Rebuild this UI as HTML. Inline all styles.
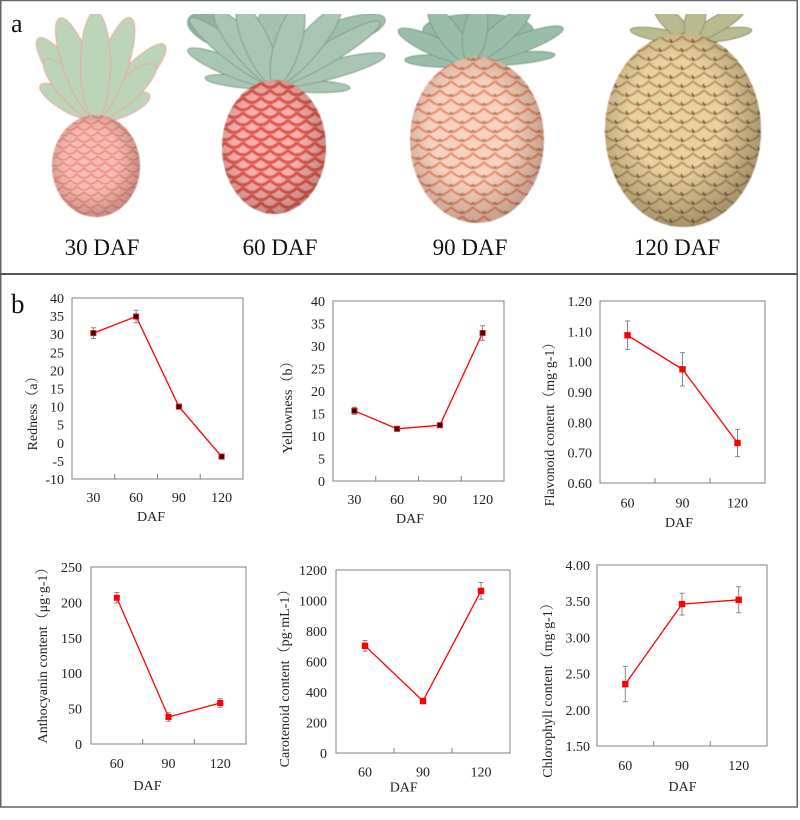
<!DOCTYPE html>
<html><head><meta charset="utf-8"><style>
html,body{margin:0;padding:0;background:#fff;}
svg{display:block;}
</style></head><body>
<svg width="800" height="820" viewBox="0 0 800 820" xmlns="http://www.w3.org/2000/svg" font-family="'Liberation Serif','Noto Serif CJK SC',serif">
<defs>
 <pattern id="pt1" width="14" height="12" patternUnits="userSpaceOnUse">
  <rect width="14" height="12" fill="#f7bcb4"/>
  <path d="M0,0 Q7,8 14,0 M-7,6 Q0,14 7,6 M7,6 Q14,14 21,6 M0,12 Q7,20 14,12" fill="none" stroke="#ea867d" stroke-width="1.6"/>
 </pattern>
 <pattern id="pt2" width="18" height="15" patternUnits="userSpaceOnUse">
  <rect width="18" height="15" fill="#f4b2ae"/>
  <path d="M0,0 Q9,10 18,0 M-9,7.5 Q0,17.5 9,7.5 M9,7.5 Q18,17.5 27,7.5 M0,15 Q9,25 18,15" fill="none" stroke="#e4544c" stroke-width="3.2"/>
  <path d="M9,3 l0,3 M0,10.5 l0,3 M18,10.5 l0,3" stroke="#a07070" stroke-width="1"/>
 </pattern>
 <pattern id="pt3" width="22" height="18" patternUnits="userSpaceOnUse">
  <rect width="22" height="18" fill="#f5d3c0"/>
  <path d="M0,0 Q11,12 22,0 M-11,9 Q0,21 11,9 M11,9 Q22,21 33,9 M0,18 Q11,30 22,18" fill="none" stroke="#ee8a6a" stroke-width="2.2"/>
  <path d="M11,4 l-2,3 m2,-3 l2,3 M0,13 l-2,3 m2,-3 l2,3 M22,13 l-2,3 m2,-3 l2,3" stroke="#8e8a72" stroke-width="1.2"/>
 </pattern>
 <pattern id="pt4" width="22" height="18" patternUnits="userSpaceOnUse">
  <rect width="22" height="18" fill="#e8d29e"/>
  <path d="M0,0 Q11,12 22,0 M-11,9 Q0,21 11,9 M11,9 Q22,21 33,9 M0,18 Q11,30 22,18" fill="none" stroke="#bb9462" stroke-width="2"/>
  <path d="M10,3 l2,4 M-1,12 l2,4 M21,12 l2,4" stroke="#5a4a38" stroke-width="1.5"/>
 </pattern>
 <radialGradient id="shade" cx="0.45" cy="0.45" r="0.55">
  <stop offset="0.55" stop-color="#5a2a18" stop-opacity="0"/>
  <stop offset="1" stop-color="#5a2a18" stop-opacity="0.3"/>
 </radialGradient>
 <radialGradient id="shade4" cx="0.45" cy="0.42" r="0.58">
  <stop offset="0.5" stop-color="#3a2a18" stop-opacity="0"/>
  <stop offset="1" stop-color="#3a2a18" stop-opacity="0.38"/>
 </radialGradient>
 <clipPath id="photo"><rect x="0" y="14" width="797" height="230"/></clipPath>
 <filter id="soft" x="-5%" y="-5%" width="110%" height="110%"><feGaussianBlur stdDeviation="0.6"/></filter>
</defs>

<rect x="0" y="0" width="800" height="820" fill="#fff"/>

<!-- Panel a photos -->
<g clip-path="url(#photo)">
<g filter="url(#soft)">
 <!-- P1 crown -->
 <g fill="#bcd5b8" stroke="#e9a3a0" stroke-width="1">
  <ellipse cx="68" cy="101.5" rx="32" ry="10" transform="rotate(30 68 101.5)"/>
  <ellipse cx="123" cy="106.5" rx="29" ry="10" transform="rotate(-23 123 106.5)"/>
  <ellipse cx="67" cy="78" rx="49" ry="13" transform="rotate(54 67 78)"/>
  <ellipse cx="130.5" cy="81.5" rx="50" ry="13" transform="rotate(-47 130.5 81.5)"/>
  <ellipse cx="70.5" cy="89" rx="39" ry="12" transform="rotate(49 70.5 89)"/>
  <ellipse cx="125.5" cy="91.5" rx="40" ry="12" transform="rotate(-42 125.5 91.5)"/>
  <ellipse cx="78" cy="68" rx="53" ry="14" transform="rotate(70 78 68)"/>
  <ellipse cx="113" cy="68" rx="53" ry="14" transform="rotate(-71 113 68)"/>
  <ellipse cx="95.5" cy="65" rx="53" ry="15" transform="rotate(90 95.5 65)"/>
 </g>
 <ellipse cx="96" cy="166" rx="44" ry="51" fill="url(#pt1)"/>
 <ellipse cx="96" cy="166" rx="44" ry="51" fill="url(#shade)"/>

 <!-- P2 crown -->
 <g fill="#a9c5b3" stroke="#809c8e" stroke-width="1">
  <ellipse cx="222" cy="32" rx="36" ry="16" transform="rotate(20 222 32)" fill="#93b3a0"/>
  <ellipse cx="345" cy="32" rx="42" ry="13" transform="rotate(-18 345 32)" fill="#9fbfac"/>
  <ellipse cx="275" cy="42" rx="42" ry="20" transform="rotate(90 275 42)" fill="#a4c2ae"/>
  <ellipse cx="240" cy="81.5" rx="35" ry="6" transform="rotate(6 240 81.5)"/>
  <ellipse cx="312.5" cy="86.5" rx="37.5" ry="6" transform="rotate(2 312.5 86.5)"/>
  <ellipse cx="231.5" cy="67.5" rx="47" ry="9" transform="rotate(22 231.5 67.5)"/>
  <ellipse cx="330" cy="70" rx="57" ry="9" transform="rotate(-15 330 70)"/>
  <ellipse cx="232.5" cy="51.5" rx="54" ry="10" transform="rotate(38 232.5 51.5)"/>
  <ellipse cx="327.5" cy="53.5" rx="61" ry="10" transform="rotate(-31 327.5 53.5)"/>
  <ellipse cx="245" cy="47.5" rx="48" ry="12" transform="rotate(51 245 47.5)"/>
  <ellipse cx="307.5" cy="46.5" rx="50" ry="12" transform="rotate(-50 307.5 46.5)"/>
  <ellipse cx="257.5" cy="45" rx="44" ry="13" transform="rotate(66 257.5 45)"/>
  <ellipse cx="287.5" cy="45" rx="42" ry="13" transform="rotate(-73 287.5 45)"/>
 </g>
 <ellipse cx="274" cy="147" rx="52" ry="67" fill="url(#pt2)"/>
 <ellipse cx="274" cy="147" rx="52" ry="67" fill="url(#shade)"/>

 <!-- P3 crown -->
 <g fill="#9abda9" stroke="#7a9a88" stroke-width="1">
  <ellipse cx="478" cy="30" rx="55" ry="16" fill="#94b8a3"/>
  <ellipse cx="437.5" cy="61" rx="32.5" ry="6" transform="rotate(2 437.5 61)"/>
  <ellipse cx="512.5" cy="58.5" rx="42.6" ry="6" transform="rotate(-5 512.5 58.5)"/>
  <ellipse cx="434" cy="46" rx="39" ry="9" transform="rotate(24 434 46)"/>
  <ellipse cx="516.5" cy="45" rx="49.5" ry="9" transform="rotate(-20 516.5 45)"/>
  <ellipse cx="450" cy="35" rx="34" ry="11" transform="rotate(53.5 450 35)"/>
  <ellipse cx="500" cy="35" rx="40" ry="11" transform="rotate(-42 500 35)"/>
  <ellipse cx="475" cy="33.5" rx="29" ry="12" transform="rotate(-80 475 33.5)"/>
 </g>
 <ellipse cx="477" cy="140" rx="67" ry="83" fill="url(#pt3)"/>
 <ellipse cx="477" cy="140" rx="67" ry="83" fill="url(#shade)"/>

 <!-- P4 crown -->
 <g fill="#b7bb92" stroke="#8e8e6a" stroke-width="1">
  <ellipse cx="660" cy="35" rx="30" ry="6" transform="rotate(9.5 660 35)"/>
  <ellipse cx="721" cy="35" rx="31" ry="6" transform="rotate(-9 721 35)"/>
  <ellipse cx="672.5" cy="22.5" rx="25" ry="9" transform="rotate(45 672.5 22.5)"/>
  <ellipse cx="717.5" cy="24" rx="32" ry="8" transform="rotate(-30 717.5 24)"/>
  <ellipse cx="695" cy="20" rx="21" ry="10" transform="rotate(-76 695 20)"/>
 </g>
 <ellipse cx="683" cy="130" rx="78" ry="97" fill="url(#pt4)"/>
 <ellipse cx="683" cy="130" rx="78" ry="97" fill="url(#shade4)"/>
</g>
</g>

<g font-size="23" fill="#111" text-anchor="middle">
 <text x="102" y="255">30 DAF</text>
 <text x="280" y="255">60 DAF</text>
 <text x="470" y="255">90 DAF</text>
 <text x="677" y="255">120 DAF</text>
</g>
<text x="11" y="32" font-size="26" fill="#111">a</text>

<!-- Frame -->
<rect x="0.75" y="0.5" width="796.5" height="806.5" fill="none" stroke="#666" stroke-width="1.5"/>
<line x1="0" y1="274" x2="797.5" y2="274" stroke="#555" stroke-width="2"/>

<text x="11" y="313" font-size="27" fill="#111">b</text>

<g font-size="14" fill="#222">
<!-- Chart 1 Redness -->
<rect x="72" y="298" width="171" height="181" fill="none" stroke="#808080"/>
<path d="M114.75,479v-5M157.5,479v-5M200.25,479v-5" stroke="#808080"/>
<g text-anchor="end">
 <text x="64" y="303">40</text><text x="64" y="321.1">35</text><text x="64" y="339.2">30</text>
 <text x="64" y="357.3">25</text><text x="64" y="375.4">20</text><text x="64" y="393.5">15</text>
 <text x="64" y="411.6">10</text><text x="64" y="429.7">5</text><text x="64" y="447.8">0</text>
 <text x="64" y="465.9">-5</text><text x="64" y="484">-10</text>
</g>
<g text-anchor="middle">
 <text x="93.4" y="502">30</text><text x="136.1" y="502">60</text><text x="178.9" y="502">90</text><text x="221.6" y="502">120</text>
 <text x="151" y="521">DAF</text>
 <text transform="translate(37,410) rotate(-90)">Redness（a）</text>
</g>
<path d="M93.4,327.7v10.8M91,327.7h5M91,338.5h5M136.1,310.3v12.4M133.6,310.3h5M133.6,322.7h5M178.9,405v3.2M221.6,455v3.2" stroke="#888" stroke-width="1" fill="none"/>
<polyline points="93.4,333.1 136.1,316.5 178.9,406.6 221.6,456.6" fill="none" stroke="#f00" stroke-width="1.3"/>
<g fill="#000" stroke="#f00" stroke-width="1">
 <rect x="90.9" y="330.6" width="5" height="5"/><rect x="133.6" y="314" width="5" height="5"/>
 <rect x="176.4" y="404.1" width="5" height="5"/><rect x="219.1" y="454.1" width="5" height="5"/>
</g>

<!-- Chart 2 Yellowness -->
<rect x="333" y="301" width="171" height="180" fill="none" stroke="#808080"/>
<path d="M375.75,481v-5M418.5,481v-5M461.25,481v-5" stroke="#808080"/>
<g text-anchor="end">
 <text x="325" y="306">40</text><text x="325" y="328.5">35</text><text x="325" y="351">30</text>
 <text x="325" y="373.5">25</text><text x="325" y="396">20</text><text x="325" y="418.5">15</text>
 <text x="325" y="441">10</text><text x="325" y="463.5">5</text><text x="325" y="486">0</text>
</g>
<g text-anchor="middle">
 <text x="354.4" y="504">30</text><text x="397.1" y="504">60</text><text x="439.9" y="504">90</text><text x="482.6" y="504">120</text>
 <text x="410" y="523">DAF</text>
 <text transform="translate(292,404) rotate(-90)">Yellowness（b）</text>
</g>
<path d="M354.4,407.2v7.2M351.9,407.2h5M351.9,414.4h5M397.1,426.5v4.6M439.9,422.9v4.6M482.6,325.8v14.4M480.1,325.8h5M480.1,340.2h5" stroke="#888" stroke-width="1" fill="none"/>
<polyline points="354.4,410.8 397.1,428.8 439.9,425.2 482.6,333" fill="none" stroke="#f00" stroke-width="1.3"/>
<g fill="#000" stroke="#f00" stroke-width="1">
 <rect x="351.9" y="408.3" width="5" height="5"/><rect x="394.6" y="426.3" width="5" height="5"/>
 <rect x="437.4" y="422.7" width="5" height="5"/><rect x="480.1" y="330.5" width="5" height="5"/>
</g>

<!-- Chart 3 Flavonoid -->
<rect x="600" y="301" width="165" height="182" fill="none" stroke="#808080"/>
<path d="M655,483v-5M710,483v-5" stroke="#808080"/>
<g text-anchor="end">
 <text x="592" y="306">1.20</text><text x="592" y="336.3">1.10</text><text x="592" y="366.7">1.00</text>
 <text x="592" y="397">0.90</text><text x="592" y="427.3">0.80</text><text x="592" y="457.7">0.70</text>
 <text x="592" y="488">0.60</text>
</g>
<g text-anchor="middle">
 <text x="627.5" y="507.5">60</text><text x="682.5" y="507.5">90</text><text x="737.5" y="507.5">120</text>
 <text x="679" y="527">DAF</text>
 <text transform="translate(554,421) rotate(-90)">Flavonoid content（mg·g-1）</text>
</g>
<path d="M627.5,321v28.6M625,321h5M625,349.6h5M682.5,352.6v33.4M680,352.6h5M680,386h5M737.5,429.4v27.2M735,429.4h5M735,456.6h5" stroke="#888" stroke-width="1" fill="none"/>
<polyline points="627.5,335.3 682.5,369.3 737.5,443" fill="none" stroke="#f00" stroke-width="1.3"/>
<g fill="#f00">
 <rect x="624.3" y="332.1" width="6.4" height="6.4"/><rect x="679.3" y="366.1" width="6.4" height="6.4"/><rect x="734.3" y="439.8" width="6.4" height="6.4"/>
</g>

<!-- Chart 4 Anthocyanin -->
<rect x="91" y="567" width="155" height="177" fill="none" stroke="#808080"/>
<path d="M142.7,744v-5M194.3,744v-5" stroke="#808080"/>
<g text-anchor="end">
 <text x="82" y="572">250</text><text x="82" y="607.4">200</text><text x="82" y="642.8">150</text>
 <text x="82" y="678.2">100</text><text x="82" y="713.6">50</text><text x="82" y="749">0</text>
</g>
<g text-anchor="middle">
 <text x="116.8" y="768">60</text><text x="168.5" y="768">90</text><text x="220.2" y="768">120</text>
 <text x="147.5" y="790">DAF</text>
 <text transform="translate(47,652) rotate(-90)">Anthocyanin content（μg·g-1）</text>
</g>
<path d="M116.8,592.5v10.4M114.3,592.5h5M114.3,602.9h5M168.5,712.8v8.4M166,712.8h5M166,721.2h5M220.2,698.8v8.4M217.7,698.8h5M217.7,707.2h5" stroke="#888" stroke-width="1" fill="none"/>
<polyline points="116.8,597.7 168.5,717 220.2,703" fill="none" stroke="#f00" stroke-width="1.3"/>
<g fill="#f00">
 <rect x="113.8" y="594.7" width="6" height="6"/><rect x="165.5" y="714" width="6" height="6"/><rect x="217.2" y="700" width="6" height="6"/>
</g>

<!-- Chart 5 Carotenoid -->
<rect x="336" y="570" width="174" height="183" fill="none" stroke="#808080"/>
<path d="M394,753v-5M452,753v-5" stroke="#808080"/>
<g text-anchor="end">
 <text x="327" y="575">1200</text><text x="327" y="605.5">1000</text><text x="327" y="636">800</text>
 <text x="327" y="666.5">600</text><text x="327" y="697">400</text><text x="327" y="727.5">200</text>
 <text x="327" y="758">0</text>
</g>
<g text-anchor="middle">
 <text x="365" y="776.5">60</text><text x="423" y="776.5">90</text><text x="481" y="776.5">120</text>
 <text x="403.7" y="791.5">DAF</text>
 <text transform="translate(289,675) rotate(-90)">Carotenoid content（pg·mL-1）</text>
</g>
<path d="M365,640.5v10.6M362.5,640.5h5M362.5,651.1h5M423,698.8v4.6M481,582.5v16.8M478.5,582.5h5M478.5,599.3h5" stroke="#888" stroke-width="1" fill="none"/>
<polyline points="365,645.8 423,701.1 481,590.9" fill="none" stroke="#f00" stroke-width="1.3"/>
<g fill="#f00">
 <rect x="361.8" y="642.6" width="6.4" height="6.4"/><rect x="419.8" y="697.9" width="6.4" height="6.4"/><rect x="477.8" y="587.7" width="6.4" height="6.4"/>
</g>

<!-- Chart 6 Chlorophyll -->
<rect x="597" y="565" width="170" height="181" fill="none" stroke="#808080"/>
<path d="M653.7,746v-5M710.3,746v-5" stroke="#808080"/>
<g text-anchor="end">
 <text x="590" y="570">4.00</text><text x="590" y="606.2">3.50</text><text x="590" y="642.4">3.00</text>
 <text x="590" y="678.6">2.50</text><text x="590" y="714.8">2.00</text><text x="590" y="751">1.50</text>
</g>
<g text-anchor="middle">
 <text x="625.3" y="770">60</text><text x="682" y="770">90</text><text x="738.7" y="770">120</text>
 <text x="682.5" y="791">DAF</text>
 <text transform="translate(552,687) rotate(-90)">Chlorophyll content（mg·g-1）</text>
</g>
<path d="M625.3,666.4v35.4M622.8,666.4h5M622.8,701.8h5M682,593.2v21.8M679.5,593.2h5M679.5,615h5M738.7,586.8v26M736.2,586.8h5M736.2,612.8h5" stroke="#888" stroke-width="1" fill="none"/>
<polyline points="625.3,684.1 682,604.1 738.7,599.8" fill="none" stroke="#f00" stroke-width="1.3"/>
<g fill="#f00">
 <rect x="622.1" y="680.9" width="6.4" height="6.4"/><rect x="678.8" y="600.9" width="6.4" height="6.4"/><rect x="735.5" y="596.6" width="6.4" height="6.4"/>
</g>
</g>
</svg>
</body></html>
